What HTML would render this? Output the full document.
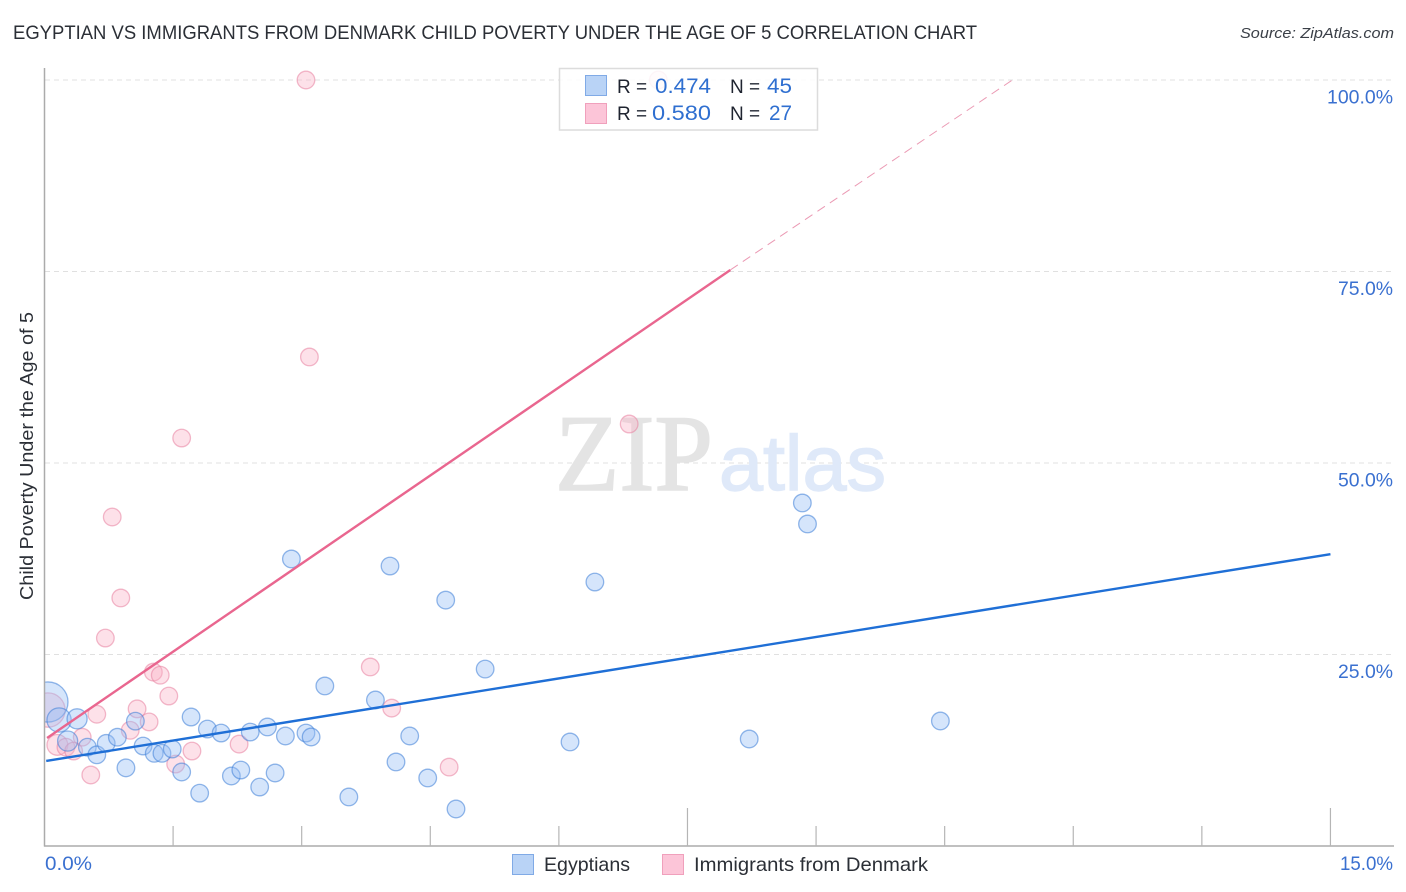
<!DOCTYPE html>
<html lang="en">
<head>
<meta charset="utf-8">
<title>Egyptian vs Immigrants from Denmark Child Poverty Correlation Chart</title>
<style>
html,body{margin:0;padding:0;background:#fff;}
svg{display:block;font-family:"Liberation Sans",sans-serif;}
</style>
</head>
<body>
<svg id="chart" xmlns="http://www.w3.org/2000/svg" width="1406" height="892" viewBox="0 0 1406 892">
  <defs>
    <clipPath id="plot-clip"><rect x="45" y="60" width="1350" height="786"/></clipPath>
  </defs>
  <text x="13" y="39" font-size="19" fill="#2b2f36" textLength="964" lengthAdjust="spacingAndGlyphs">EGYPTIAN VS IMMIGRANTS FROM DENMARK CHILD POVERTY UNDER THE AGE OF 5 CORRELATION CHART</text>
  <text x="1394" y="38" font-size="15" font-style="italic" fill="#3a3f47" text-anchor="end" textLength="154" lengthAdjust="spacingAndGlyphs">Source: ZipAtlas.com</text>
  <text transform="translate(33,456) rotate(-90)" font-size="18" fill="#2b2f36" text-anchor="middle" textLength="288" lengthAdjust="spacingAndGlyphs">Child Poverty Under the Age of 5</text>

  <g id="grid"></g>

  <g>
    <text x="555" y="490" font-family="'Liberation Serif',serif" font-size="109" fill="#e4e4e4" stroke="#e4e4e4" stroke-width="1.6" textLength="158" lengthAdjust="spacingAndGlyphs">ZIP</text>
    <text x="719" y="490" font-size="78" fill="#dfe9f9" stroke="#dfe9f9" stroke-width="1.4" textLength="167" lengthAdjust="spacingAndGlyphs">atlas</text>
  </g>

  <g id="pink-points" clip-path="url(#plot-clip)"></g>
  <g id="blue-points" clip-path="url(#plot-clip)"></g>
  <g id="trends"></g>
  <g id="axes"></g>

  <g>
    <rect x="559.5" y="68.5" width="258" height="61.5" fill="#ffffff" fill-opacity="0.86" stroke="#dcdcdc" stroke-width="1.5"/>
    <rect x="585.5" y="75.5" width="21" height="20" fill="#b9d3f6" stroke="#80aae6" stroke-width="1"/>
    <rect x="585.5" y="103.5" width="21" height="20" fill="#fcc5d8" stroke="#f0a0bc" stroke-width="1"/>
    <text x="617" y="93" font-size="19" fill="#1f2430">R =</text>
    <text x="711" y="93" font-size="21.5" fill="#2f6fd0" text-anchor="end" textLength="56" lengthAdjust="spacingAndGlyphs">0.474</text>
    <text x="730" y="93" font-size="19" fill="#1f2430">N =</text>
    <text x="792" y="93" font-size="21.5" fill="#2f6fd0" text-anchor="end" textLength="25" lengthAdjust="spacingAndGlyphs">45</text>
    <text x="617" y="120" font-size="19" fill="#1f2430">R =</text>
    <text x="711" y="120" font-size="21.5" fill="#2f6fd0" text-anchor="end" textLength="59" lengthAdjust="spacingAndGlyphs">0.580</text>
    <text x="730" y="120" font-size="19" fill="#1f2430">N =</text>
    <text x="792" y="120" font-size="21.5" fill="#2f6fd0" text-anchor="end" textLength="23" lengthAdjust="spacingAndGlyphs">27</text>
  </g>

  <g>
    <rect x="512.5" y="854.5" width="21" height="20" fill="#b9d3f6" stroke="#80aae6" stroke-width="1"/>
    <text x="544" y="871" font-size="19.5" fill="#2b2f36" textLength="86" lengthAdjust="spacingAndGlyphs">Egyptians</text>
    <rect x="662.5" y="854.5" width="21" height="20" fill="#fcc5d8" stroke="#f0a0bc" stroke-width="1"/>
    <text x="694" y="871" font-size="19.5" fill="#2b2f36" textLength="234" lengthAdjust="spacingAndGlyphs">Immigrants from Denmark</text>
  </g>
</svg>
<script>
const blueX = [0.04,0.17,0.38,0.27,0.50,0.61,0.72,0.85,0.95,1.06,1.15,1.28,1.37,1.49,1.60,1.71,1.81,1.90,2.06,2.18,2.29,2.40,2.51,2.60,2.69,2.81,2.88,3.05,3.11,3.27,3.55,3.86,4.03,4.10,4.26,4.47,4.68,4.80,5.14,6.13,6.42,8.22,8.84,8.90,10.45];
const blueY = [18.8,16.45,16.6,13.7,12.9,11.9,13.4,14.2,10.2,16.3,13.05,12.1,12.1,12.66,9.66,16.84,6.9,15.27,14.75,9.14,9.92,14.88,7.7,15.54,9.53,14.36,37.47,14.75,14.23,20.89,6.4,19.06,36.55,10.97,14.36,8.88,32.1,4.83,23.1,13.58,34.46,13.97,44.78,42.04,16.32];
const blueWeight = [5.2,1.9,1.3,1.3,1,1,1,1,1,1,1,1,1,1,1,1,1,1,1,1,1,1,1,1,1,1,1,1,1,1,1,1,1,1,1,1,1,1,1,1,1,1,1,1,1];
const pinkX = [3.05,7.16,3.09,1.60,6.82,0.79,0.89,0.71,3.80,1.27,1.35,1.45,4.05,0.04,0.61,1.08,1.22,1.00,0.44,0.15,0.25,0.34,0.54,1.53,1.72,2.27,4.72];
const pinkY = [100,100,63.84,53.26,55.09,42.95,32.38,27.15,23.37,22.7,22.3,19.58,18.0,17.75,17.2,17.9,16.2,15.1,14.2,13.2,12.9,12.4,9.27,10.7,12.4,13.3,10.3];
const pinkWeight = [1,1,1,1,1,1,1,1,1,1,1,1,1,3.8,1,1,1,1,1,1.4,1,1,1,1,1,1,1];
const blueTrendX = [0.02,15];
const blueTrendY = [11.1,38.1];
const pinkTrendX = [0.03,8.0];
const pinkTrendY = [14.1,75.2];
const pinkExtensionX = [8.0,11.29];
const pinkExtensionY = [75.2,100];
const yTicks = [100,75,50,25];
const yTickLabels = ["100.0%","75.0%","50.0%","25.0%"];
const xTicks = [1.5,3,4.5,6,7.5,9,10.5,12,13.5,15];
const xMajorTicks = [7.5,15];
const xEndLabels = ["0.0%","15.0%"];

const NS = "http://www.w3.org/2000/svg";
function sx(v){ return 44.5 + v * 85.73; }
function sy(v){ return 846 - v * 7.66; }
function make(tag, attrs, parent){
  const el = document.createElementNS(NS, tag);
  for (const k in attrs) el.setAttribute(k, attrs[k]);
  parent.appendChild(el);
  return el;
}

const grid = document.getElementById("grid");
yTicks.forEach(function(t){
  const line = make("line", {x1:45, x2:1393, y1:sy(t), y2:sy(t), stroke:"#e0e0e0", "stroke-width":1, "stroke-dasharray":"5 4"}, grid);
  
  
});

function drawPoints(groupId, xs, ys, weights, fill, stroke, name){
  const g = document.getElementById(groupId);
  xs.forEach(function(x, i){
    const c = make("circle", {cx:sx(x), cy:sy(ys[i]), r:8.8*Math.sqrt(weights[i]), fill:fill, stroke:stroke, "stroke-width":1.3}, g);
    
    
  });
}
drawPoints("pink-points", pinkX, pinkY, pinkWeight, "rgba(249,175,198,0.38)", "rgba(232,130,160,0.55)", "denmark-point");
drawPoints("blue-points", blueX, blueY, blueWeight, "rgba(150,190,244,0.4)", "rgba(60,125,215,0.55)", "egyptians-point");

const trends = document.getElementById("trends");
const trendPink = make("line", {x1:sx(pinkTrendX[0]), y1:sy(pinkTrendY[0]), x2:sx(pinkTrendX[1]), y2:sy(pinkTrendY[1]), stroke:"#e9668f", "stroke-width":2.4}, trends);


const trendPinkDash = make("line", {x1:sx(pinkExtensionX[0]), y1:sy(pinkExtensionY[0]), x2:sx(pinkExtensionX[1]), y2:sy(pinkExtensionY[1]), stroke:"#eb9ab4", "stroke-width":1, "stroke-dasharray":"9 6"}, trends);


const trendBlue = make("line", {x1:sx(blueTrendX[0]), y1:sy(blueTrendY[0]), x2:sx(blueTrendX[1]), y2:sy(blueTrendY[1]), stroke:"#1f6fd6", "stroke-width":2.4}, trends);



const axes = document.getElementById("axes");
const yAxis = make("line", {x1:44.5, x2:44.5, y1:68, y2:846.5, stroke:"#ababab", "stroke-width":1.5}, axes);


const xAxis = make("line", {x1:44, x2:1394, y1:846, y2:846, stroke:"#ababab", "stroke-width":1.5}, axes);



xTicks.forEach(function(t){
  const top = xMajorTicks.indexOf(t) >= 0 ? 808 : 826;
  const tick = make("line", {x1:sx(t), x2:sx(t), y1:top, y2:846, stroke:"#b5b5b5", "stroke-width":1.2}, axes);
  
  
});

yTicks.forEach(function(t, i){
  const label = make("text", {x:1393, y:sy(t)+23.5, "font-size":19, fill:"#3a70d0", "text-anchor":"end", textLength:yTickLabels[i].length*11, lengthAdjust:"spacingAndGlyphs"}, axes);
  
  
  label.textContent = yTickLabels[i];
});

const xLabelStart = make("text", {x:45, y:870, "font-size":19, fill:"#3a70d0", textLength:47, lengthAdjust:"spacingAndGlyphs"}, axes);


xLabelStart.textContent = xEndLabels[0];
const xLabelEnd = make("text", {x:1393, y:870, "font-size":19, fill:"#3a70d0", "text-anchor":"end", textLength:53, lengthAdjust:"spacingAndGlyphs"}, axes);


xLabelEnd.textContent = xEndLabels[1];
</script>
</body>
</html>
